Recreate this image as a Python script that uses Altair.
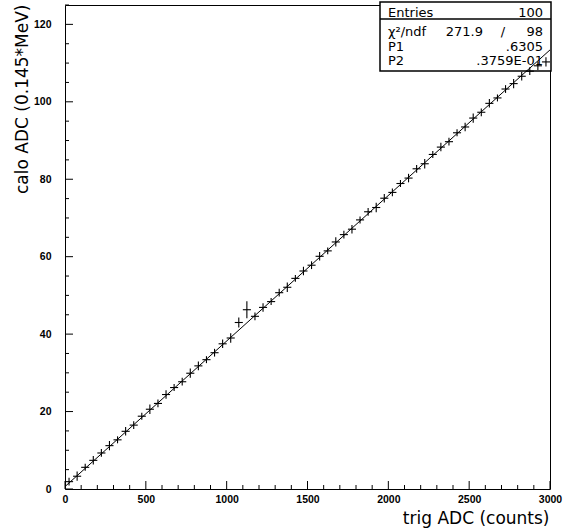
import altair as alt
import pandas as pd

# ---- data ----
bin_center = [25, 75, 125, 175, 225, 275, 325, 375, 425, 475,
              525, 575, 625, 675, 725, 775, 825, 875, 925, 975,
              1025, 1075, 1125, 1175, 1225, 1275, 1325, 1375, 1425, 1475,
              1525, 1575, 1625, 1675, 1725, 1775, 1825, 1875, 1925, 1975,
              2025, 2075, 2125, 2175, 2225, 2275, 2325, 2375, 2425, 2475,
              2525, 2575, 2625, 2675, 2725, 2775, 2825, 2875, 2925, 2975]
calo_mean = [1.9, 3.3, 5.6, 7.4, 9.3, 11.2, 12.7, 14.9, 16.5, 18.8,
             20.6, 22.1, 24.4, 26.2, 27.7, 29.9, 31.8, 33.4, 35.2, 37.5,
             39.0, 43.0, 46.3, 44.6, 46.9, 48.4, 50.7, 52.1, 54.4, 56.3,
             57.8, 60.1, 61.5, 63.8, 65.7, 67.1, 69.5, 71.6, 72.7, 75.1,
             76.6, 78.9, 80.3, 82.7, 84.0, 86.4, 88.3, 89.7, 92.0, 93.5,
             95.8, 97.3, 99.6, 101.0, 103.3, 104.7, 106.6, 107.9, 109.3, 110.3]
calo_err = [1.0, 1.2, 0.9, 1.1, 1.0, 1.2, 0.9, 1.1, 1.0, 0.9,
            1.2, 1.0, 1.1, 0.9, 1.0, 1.2, 1.1, 0.9, 1.0, 1.1,
            1.2, 1.3, 2.2, 1.0, 1.1, 0.9, 1.0, 1.2, 0.9, 1.1,
            1.0, 1.1, 0.9, 1.2, 1.0, 1.1, 0.9, 1.0, 1.2, 1.1,
            1.0, 0.9, 1.1, 1.0, 1.2, 0.9, 1.1, 1.0, 0.9, 1.1,
            1.2, 1.0, 1.1, 0.9, 1.0, 1.2, 1.1, 1.0, 1.1, 1.2]
bin_half_width = 25

fit_p1 = 0.6305
fit_p2 = 0.03759
fit_x = [0, 3000]

x_major = [0, 500, 1000, 1500, 2000, 2500, 3000]
x_minor = [100, 200, 300, 400, 600, 700, 800, 900, 1100, 1200, 1300, 1400,
           1600, 1700, 1800, 1900, 2100, 2200, 2300, 2400, 2600, 2700, 2800, 2900]
y_major = [0, 20, 40, 60, 80, 100, 120]
y_minor = [5, 10, 15, 25, 30, 35, 45, 50, 55, 65, 70, 75, 85, 90, 95,
           105, 110, 115, 125]

stats_rows = ["Entries", "\u03c7\u00b2/ndf", "P1", "P2"]
stats_vals = ["100", "98", ".6305", ".3759E-01"]

W, H = 485, 484
LFONT = "Liberation Sans"
TFONT = "DejaVu Sans"

df = pd.DataFrame({"center": bin_center, "mean": calo_mean, "err": calo_err})
fit_df = pd.DataFrame({"x": fit_x})

xs = alt.Scale(domain=[0, 3000], nice=False, zero=False)
ys = alt.Scale(domain=[0, 125], nice=False, zero=False)

xaxis = alt.Axis(values=x_major, format="d", ticks=False, domain=False, grid=False,
                 labelFont=LFONT, labelFontSize=10.5, labelFontWeight="bold",
                 labelColor="black", labelPadding=5, labelFlush=False,
                 title="trig ADC (counts)", titleFont=TFONT, titleFontSize=17,
                 titleFontWeight="normal", titleColor="black",
                 titleAnchor="end", titleAlign="right", titleX=W - 1, titleY=34,
                 titleBaseline="alphabetic")
yaxis = alt.Axis(values=y_major, format="d", ticks=False, domain=False, grid=False,
                 labelFont=LFONT, labelFontSize=10.5, labelFontWeight="bold",
                 labelColor="black", labelPadding=14, labelFlush=False,
                 title="calo ADC (0.145*MeV)", titleFont=TFONT, titleFontSize=17,
                 titleFontWeight="normal", titleColor="black",
                 titleAngle=-90, titleAlign="right", titleX=-43, titleY=-1,
                 titleBaseline="middle")


def X(field):
    return alt.X(field, type="quantitative", scale=xs, axis=xaxis)


def Y(field):
    return alt.Y(field, type="quantitative", scale=ys, axis=yaxis)


base = alt.Chart(df)

hbars = base.transform_calculate(
    lo=f"datum.center - {bin_half_width}", hi=f"datum.center + {bin_half_width}"
).mark_rule(color="black", strokeWidth=1.1).encode(
    x=X("lo"), x2="hi:Q", y=Y("mean"))

vbars = base.transform_calculate(
    lo="datum.mean - datum.err", hi="datum.mean + datum.err"
).mark_rule(color="black", strokeWidth=1.1).encode(
    x=X("center"), y=Y("lo"), y2="hi:Q")

fit = alt.Chart(fit_df).transform_calculate(
    fy=f"{fit_p1} + {fit_p2} * datum.x"
).mark_line(color="black", strokeWidth=1).encode(x=X("x"), y=Y("fy"))

# inward ticks
xmaj = alt.Chart(pd.DataFrame({"t": x_major})).mark_rule(color="black").encode(
    x=X("t"), y=alt.value(H), y2=alt.value(H - 8))
xmin = alt.Chart(pd.DataFrame({"t": x_minor})).mark_rule(color="black").encode(
    x=X("t"), y=alt.value(H), y2=alt.value(H - 4))
ymaj = alt.Chart(pd.DataFrame({"t": y_major})).mark_rule(color="black").encode(
    y=Y("t"), x=alt.value(0), x2=alt.value(8))
ymin = alt.Chart(pd.DataFrame({"t": y_minor})).mark_rule(color="black").encode(
    y=Y("t"), x=alt.value(0), x2=alt.value(4))

# stats box
one = alt.Data(values=[{}])
bx0, bx1, by0, by1 = 315, 486, -3, 66
box = alt.Chart(one).mark_rect(fill="white", stroke="black", strokeWidth=1.5).encode(
    x=alt.value(bx0), x2=alt.value(bx1), y=alt.value(by0), y2=alt.value(by1))
sep = alt.Chart(one).mark_rule(color="black", strokeWidth=1.5).encode(
    x=alt.value(bx0), x2=alt.value(bx1), y=alt.value(14))

row_y = [12, 30.5, 45.5, 60]
texts = []
for name, yy in zip(stats_rows, row_y):
    texts.append(alt.Chart(one).mark_text(
        text=name, align="left", baseline="alphabetic", font=TFONT, fontSize=13,
        color="black").encode(x=alt.value(323), y=alt.value(yy)))
for val, yy in zip(stats_vals, row_y):
    texts.append(alt.Chart(one).mark_text(
        text=val, align="right", baseline="alphabetic", font=TFONT, fontSize=13,
        color="black").encode(x=alt.value(478), y=alt.value(yy)))
texts.append(alt.Chart(one).mark_text(
    text="271.9", align="right", baseline="alphabetic", font=TFONT, fontSize=13,
    color="black").encode(x=alt.value(418), y=alt.value(row_y[1])))
texts.append(alt.Chart(one).mark_text(
    text="/", align="center", baseline="alphabetic", font=TFONT, fontSize=13,
    color="black").encode(x=alt.value(438), y=alt.value(row_y[1])))

chart = alt.layer(
    box, sep, *texts, xmaj, xmin, ymaj, ymin, fit, hbars, vbars
).properties(
    width=W, height=H,
    autosize=alt.AutoSizeParams(type="none"),
    padding={"left": 65, "top": 5, "right": 14, "bottom": 42},
    background="white",
).configure_view(stroke="black", strokeWidth=1)

chart.save("out.html", embed_options={"renderer": "svg", "actions": False})
